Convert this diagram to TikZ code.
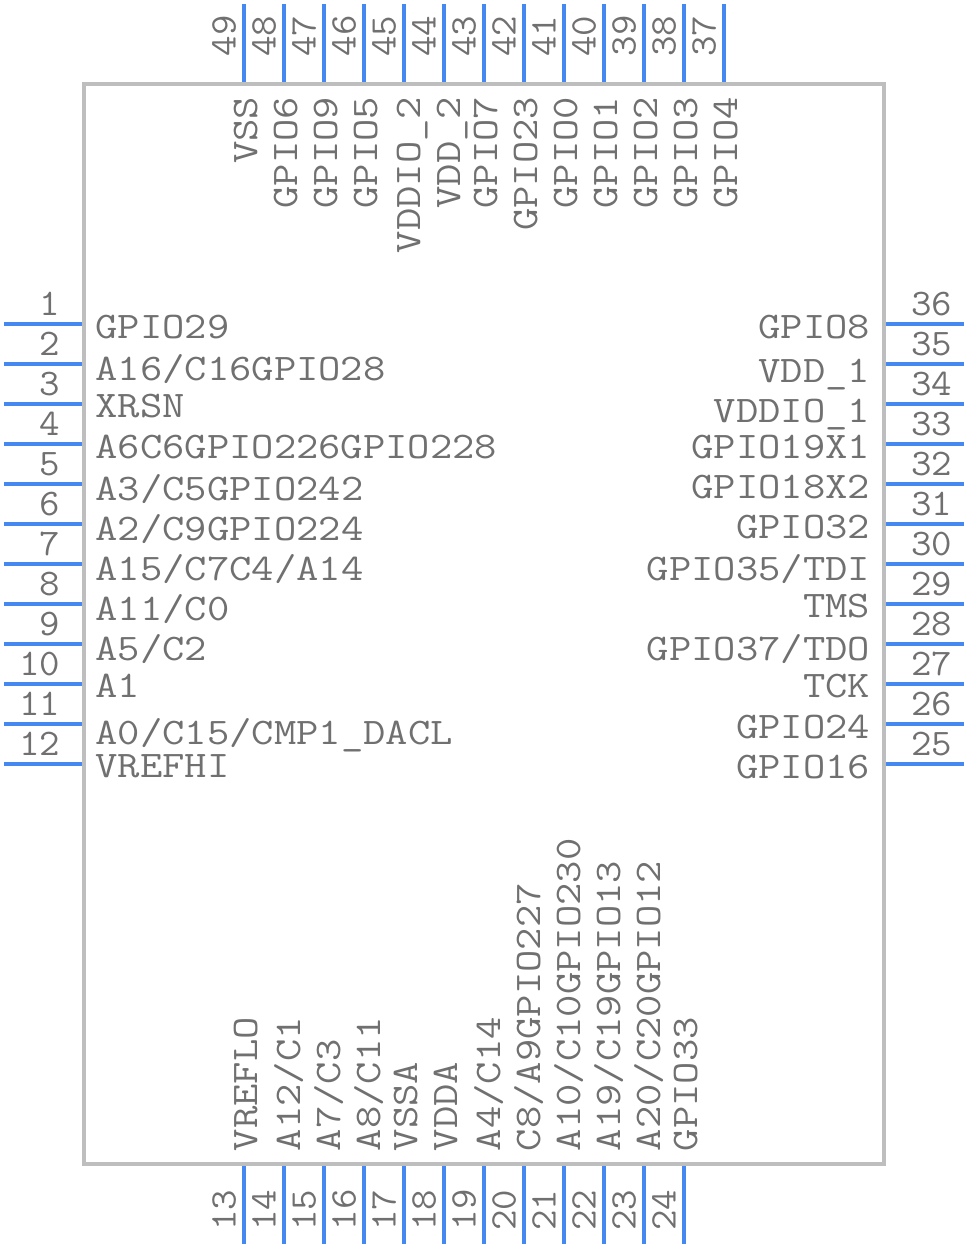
\documentclass[tikz,border=0pt]{standalone}
\usepackage{fontspec}
\usepackage{graphicx}
\definecolor{pinblue}{HTML}{4488F0}
\definecolor{boxgrey}{HTML}{BEBEBE}
\definecolor{txtgrey}{HTML}{707070}
\newcommand{\Tx}[1]{\scalebox{1.156}[1]{\fontsize{37.5}{37.5}\selectfont\ttfamily #1}}
\newcommand{\Nm}[1]{\scalebox{1.06}[1]{\fontsize{37.5}{37.5}\selectfont\ttfamily #1}}
\tikzset{
  chipbox/.style={draw=boxgrey,line width=4pt,line join=miter},
  pinline/.style={draw=pinblue,line width=4pt},
  lab/.style={text=txtgrey,inner sep=0pt,outer sep=0pt},
  wlab/.style={lab,anchor=base west},
  elab/.style={lab,anchor=base east},
  rwlab/.style={lab,anchor=base west,rotate=90},
  relab/.style={lab,anchor=base east,rotate=90},
}
\newcommand{\LL}[3]{\node[wlab] (l#1) at (95.5,#2) {\Tx{#3}};}
\newcommand{\RL}[3]{\node[elab] (r#1) at (870,#2) {\Tx{#3}};}
\newcommand{\TL}[3]{\node[relab] (t#1) at (#2,97) {\Tx{#3}};}
\newcommand{\BL}[3]{\node[rwlab] (b#1) at (#2,1151) {\Tx{#3}};}
\begin{document}
\begin{tikzpicture}[x=1pt,y=-1pt]
\useasboundingbox (0,0) rectangle (968,1248);
\foreach \i in {1,...,12}{
  \pgfmathtruncatemacro{\yy}{324+40*(\i-1)}
  \draw[pinline] (4,\yy) -- (84,\yy);
  \node[elab] (nl\i) at (60,\yy-8.5) {\Nm{\i}};
}
\foreach \i in {25,...,36}{
  \pgfmathtruncatemacro{\yy}{324+40*(36-\i)}
  \draw[pinline] (884,\yy) -- (964,\yy);
  \node[wlab] (nr\i) at (911,\yy-8.5) {\Nm{\i}};
}
\foreach \i in {13,...,24}{
  \pgfmathtruncatemacro{\xx}{244+40*(\i-13)}
  \draw[pinline] (\xx,1164) -- (\xx,1244);
  \node[lab,anchor=base,rotate=90] (nb\i) at (\xx-8.5,1210) {\Nm{\i}};
}
\foreach \i in {37,...,49}{
  \pgfmathtruncatemacro{\xx}{724-40*(\i-37)}
  \draw[pinline] (\xx,4) -- (\xx,84);
  \node[lab,anchor=base,rotate=90] (nt\i) at (\xx-8.5,36) {\Nm{\i}};
}
\draw[chipbox] (84,84) rectangle (884,1164);
\LL{1}{338}{GPIO29}
\LL{2}{380}{A16/C16GPIO28}
\LL{3}{417}{XRSN}
\LL{4}{458}{A6C6GPIO226GPIO228}
\LL{5}{500}{A3/C5GPIO242}
\LL{6}{540}{A2/C9GPIO224}
\LL{7}{580}{A15/C7C4/A14}
\LL{8}{620}{A11/C0}
\LL{9}{660}{A5/C2}
\LL{10}{697}{A1}
\LL{11}{744}{A0/C15/CMP1\_DACL}
\LL{12}{777}{VREFHI}
\RL{36}{338}{GPIO8}
\RL{35}{382}{VDD\_1}
\RL{34}{422}{VDDIO\_1}
\RL{33}{458}{GPIO19X1}
\RL{32}{498}{GPIO18X2}
\RL{31}{538}{GPIO32}
\RL{30}{580}{GPIO35/TDI}
\RL{29}{617}{TMS}
\RL{28}{660}{GPIO37/TDO}
\RL{27}{697}{TCK}
\RL{26}{738}{GPIO24}
\RL{25}{778}{GPIO16}
\TL{49}{257}{VSS}
\TL{48}{297.5}{GPIO6}
\TL{47}{337.5}{GPIO9}
\TL{46}{377.5}{GPIO5}
\TL{45}{420}{VDDIO\_2}
\TL{44}{460}{VDD\_2}
\TL{43}{497.5}{GPIO7}
\TL{42}{537.5}{GPIO23}
\TL{41}{577.5}{GPIO0}
\TL{40}{617.5}{GPIO1}
\TL{39}{657.5}{GPIO2}
\TL{38}{697.5}{GPIO3}
\TL{37}{737.5}{GPIO4}
\BL{13}{257}{VREFLO}
\BL{14}{300}{A12/C1}
\BL{15}{340}{A7/C3}
\BL{16}{380}{A8/C11}
\BL{17}{417}{VSSA}
\BL{18}{457}{VDDA}
\BL{19}{500}{A4/C14}
\BL{20}{540}{C8/A9GPIO227}
\BL{21}{580}{A10/C10GPIO230}
\BL{22}{620}{A19/C19GPIO13}
\BL{23}{660}{A20/C20GPIO12}
\BL{24}{697}{GPIO33}
\end{tikzpicture}
\end{document}
